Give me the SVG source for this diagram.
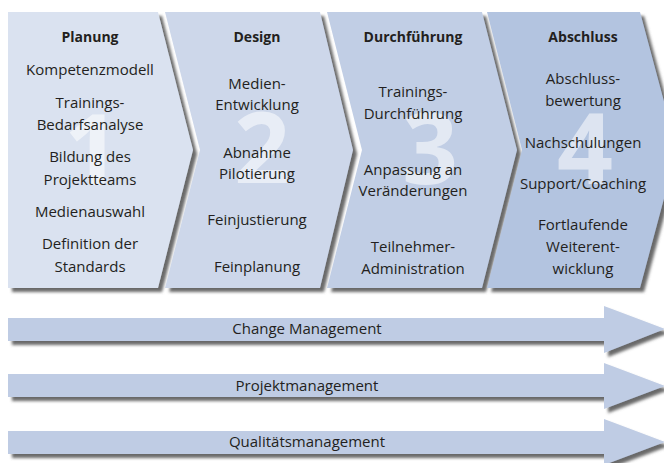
<svg xmlns="http://www.w3.org/2000/svg" width="664" height="463" viewBox="0 0 664 463">
<defs>
<filter id="sh" x="-10%" y="-10%" width="130%" height="130%">
<feGaussianBlur in="SourceAlpha" stdDeviation="1.8"/>
<feOffset dx="4" dy="4" result="b"/>
<feFlood flood-color="#5a5a5a" flood-opacity="0.9"/>
<feComposite in2="b" operator="in" result="s"/>
<feMerge><feMergeNode in="s"/><feMergeNode in="SourceGraphic"/></feMerge>
</filter>
<style>
.t{font-family:"Open Sans","Liberation Sans",sans-serif;font-size:15px;fill:#231f20;text-anchor:middle}
.h{font-weight:bold;font-size:14px}
.n{font-family:"Open Sans","Liberation Sans",sans-serif;font-weight:bold;font-size:98px;fill:#ffffff;fill-opacity:0.55;text-anchor:middle}
.a{fill:#bfcce4}
</style>
</defs>
<rect width="664" height="463" fill="#ffffff"/>
<g id="phase1">
<polygon points="8,12 158,12 193,150 158,288 8,288" fill="#dae2f0" filter="url(#sh)"/>
<text class="n" x="92" y="185">1</text>
<text class="t h" x="90" y="42">Planung</text>
<text class="t" x="90" y="75">Kompetenzmodell</text>
<text class="t" x="90" y="108">Trainings-</text>
<text class="t" x="90" y="130">Bedarfsanalyse</text>
<text class="t" x="90" y="162">Bildung des</text>
<text class="t" x="90" y="185">Projektteams</text>
<text class="t" x="90" y="217">Medienauswahl</text>
<text class="t" x="90" y="249">Definition der</text>
<text class="t" x="90" y="272">Standards</text>
</g>
<g id="phase2">
<polygon points="165,12 320,12 353,150 320,288 165,288 200,150" fill="#cdd7ea" filter="url(#sh)"/>
<text class="n" x="262" y="183">2</text>
<text class="t h" x="257" y="42">Design</text>
<text class="t" x="257" y="89">Medien-</text>
<text class="t" x="257" y="110">Entwicklung</text>
<text class="t" x="257" y="158">Abnahme</text>
<text class="t" x="257" y="179">Pilotierung</text>
<text class="t" x="257" y="225">Feinjustierung</text>
<text class="t" x="257" y="272">Feinplanung</text>
</g>
<g id="phase3">
<polygon points="327,12 482,12 517,150 482,288 327,288 362,150" fill="#c1cee5" filter="url(#sh)"/>
<text class="n" x="430" y="184">3</text>
<text class="t h" x="413" y="42">Durchführung</text>
<text class="t" x="413" y="97">Trainings-</text>
<text class="t" x="413" y="119">Durchführung</text>
<text class="t" x="413" y="175">Anpassung an</text>
<text class="t" x="413" y="196">Veränderungen</text>
<text class="t" x="413" y="252">Teilnehmer-</text>
<text class="t" x="413" y="274">Administration</text>
</g>
<g id="phase4">
<polygon points="487,12 640,12 677,150 640,288 487,288 522,150" fill="#b3c4e0" filter="url(#sh)"/>
<text class="n" x="585" y="184">4</text>
<text class="t h" x="583" y="42">Abschluss</text>
<text class="t" x="583" y="84">Abschluss-</text>
<text class="t" x="583" y="106">bewertung</text>
<text class="t" x="583" y="148">Nachschulungen</text>
<text class="t" x="583" y="189">Support/Coaching</text>
<text class="t" x="583" y="230">Fortlaufende</text>
<text class="t" x="583" y="252">Weiterent-</text>
<text class="t" x="583" y="274">wicklung</text>
</g>
<g id="change-management">
<polygon class="a" points="8,318 604,318 604,306 665,329 604,353 604,341 8,341" filter="url(#sh)"/>
<text class="t" x="307" y="334">Change Management</text>
</g>
<g id="projektmanagement">
<polygon class="a" points="8,374 604,374 604,363 665,386 604,409 604,397 8,397" filter="url(#sh)"/>
<text class="t" x="307" y="391">Projektmanagement</text>
</g>
<g id="qualitaetsmanagement">
<polygon class="a" points="8,431 604,431 604,419 665,442 604,465 604,454 8,454" filter="url(#sh)"/>
<text class="t" x="307" y="447">Qualitätsmanagement</text>
</g>
<g id="connectors"/>
</svg>
